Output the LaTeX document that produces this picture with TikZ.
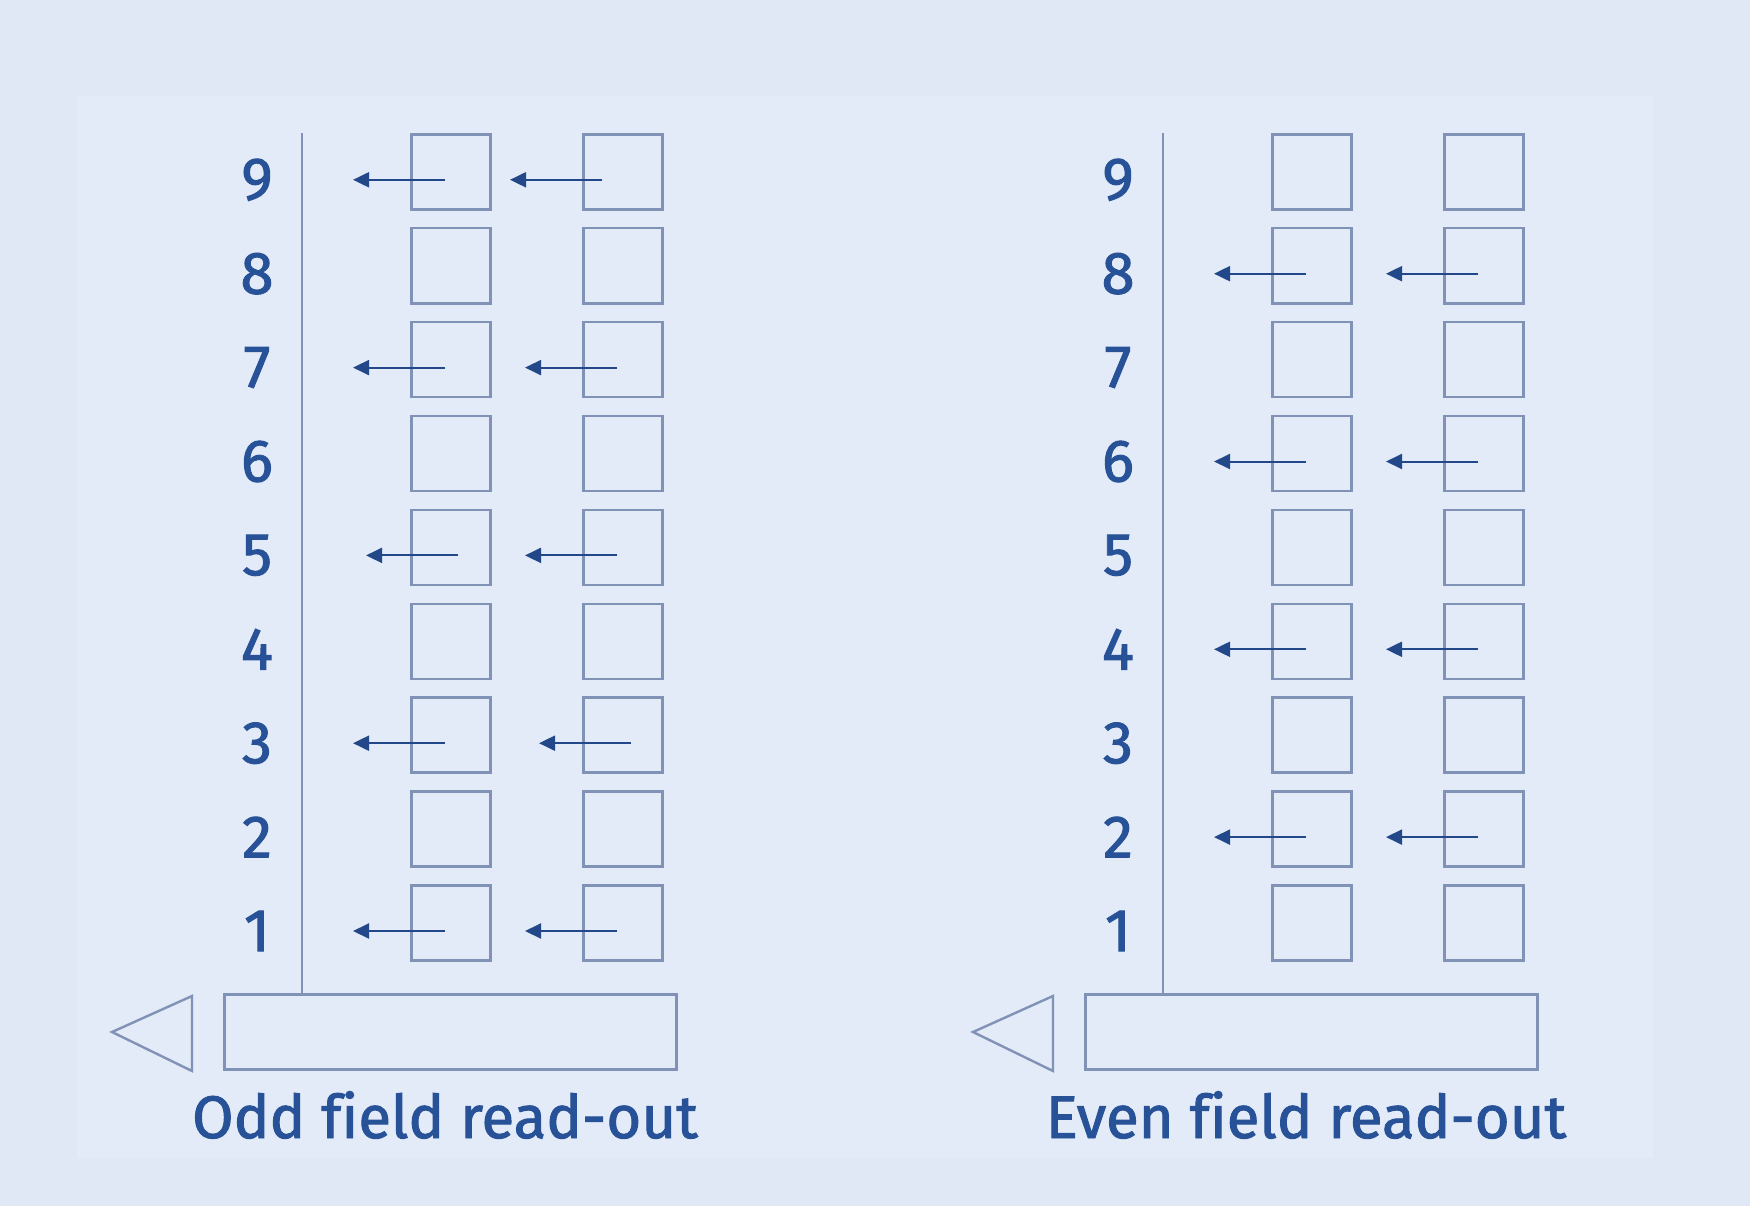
\documentclass[tikz,border=0pt]{standalone}
\usepackage{fontspec}
\setmainfont{Fira Sans}[Ligatures=CommonOff]
\newfontfamily\mediumfont{Fira Sans}[Ligatures=CommonOff, FakeBold=1.6]
\usetikzlibrary{arrows.meta, positioning}
\definecolor{paper}{RGB}{223,232,244}
\definecolor{panel}{RGB}{226,235,247}
\definecolor{wire}{RGB}{128,146,182}
\definecolor{ink}{RGB}{34,72,138}
\definecolor{label}{RGB}{40,82,152}

\begin{document}
\begin{tikzpicture}[
    x=1pt, y=-1pt,
    cell/.style={draw=wire, line width=2.6pt, minimum width=79pt, minimum height=75pt, inner sep=0pt},
    reg/.style={draw=wire, line width=2.6pt, minimum width=452pt, minimum height=75pt, inner sep=0pt},
    num/.style={text=label, font=\fontsize{60}{60}\selectfont\mediumfont, inner sep=0pt},
    title/.style={text=label, font=\fontsize{60}{60}\selectfont\mediumfont, inner sep=0pt, anchor=base},
    pass/.style={draw=ink, line width=2pt, -{Triangle[length=16pt, width=15pt]}},
  ]
  \fill[paper] (0,0) rectangle (1750,1206);
  \fill[panel] (77,96) rectangle (1653,1158);

  \foreach \p/\dx/\txt in {odd/0/Odd field read-out, even/861/Even field read-out} {
    \begin{scope}[xshift=\dx pt]
      % photosite columns and row numbers
      \foreach \r in {1,...,9} {
        \node[cell] (\p-1-\r) at (451, {923-(\r-1)*93.9}) {};
        \node[cell] (\p-2-\r) at (623, {923-(\r-1)*93.9}) {};
        \node[num] (\p-n-\r) at (257, {931-(\r-1)*93.9}) {\r};
      }
      % horizontal register
      \node[reg] (\p-reg) at (450.5, 1032) {};
      \coordinate (\p-top) at (302, 133);
      \draw[wire, line width=2.4pt] (\p-top) -- (\p-top |- \p-reg.north);
      \draw[wire, line width=2.4pt, line join=miter]
        (112, 1032) -- (192, 996) -- (192, 1071) -- cycle;
      \node[title] (\p-lab) at (445, 1138) {\txt};
    \end{scope}
  }

  % odd field: transfer of rows 1,3,5,7,9
  \foreach \r/\sa/\sb in {9/0/-15, 7/0/0, 5/13/0, 3/0/14, 1/0/0} {
    \coordinate (odd-t1-\r) at ([xshift={(-98+\sa)*1pt}, yshift=-8pt]odd-1-\r.center);
    \coordinate (odd-t2-\r) at ([xshift={(-98+\sb)*1pt}, yshift=-8pt]odd-2-\r.center);
    \draw[pass] ([xshift={(-6+\sa)*1pt}, yshift=-8pt]odd-1-\r.center) -- (odd-t1-\r);
    \draw[pass] ([xshift={(-6+\sb)*1pt}, yshift=-8pt]odd-2-\r.center) -- (odd-t2-\r);
  }

  % even field: transfer of rows 2,4,6,8
  \foreach \r in {8,6,4,2} {
    \coordinate (even-t1-\r) at ([xshift=-98pt, yshift=-8pt]even-1-\r.center);
    \coordinate (even-t2-\r) at ([xshift=-98pt, yshift=-8pt]even-2-\r.center);
    \draw[pass] ([xshift=-6pt, yshift=-8pt]even-1-\r.center) -- (even-t1-\r);
    \draw[pass] ([xshift=-6pt, yshift=-8pt]even-2-\r.center) -- (even-t2-\r);
  }
\end{tikzpicture}
\end{document}
